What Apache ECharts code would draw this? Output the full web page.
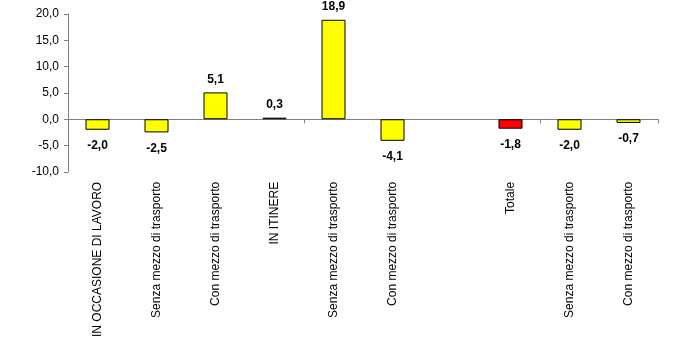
<!DOCTYPE html>
<html><head><meta charset="utf-8">
<script src="https://cdn.jsdelivr.net/npm/echarts@6/dist/echarts.min.js"></script>
<style>html,body{margin:0;padding:0;background:#fff}#c{width:700px;height:340px}</style>
</head><body><div id="c"></div>
<script>
var categories = ['IN OCCASIONE DI LAVORO','Senza mezzo di trasporto','Con mezzo di trasporto','IN ITINERE','Senza mezzo di trasporto','Con mezzo di trasporto','','Totale','Senza mezzo di trasporto','Con mezzo di trasporto'];
var values = [-2.0, -2.5, 5.1, 0.3, 18.9, -4.1, null, -1.8, -2.0, -0.7];
var highlightCategory = 'Totale';

var fmt = function(v){ return v.toFixed(1).replace('.', ','); };
var chart = echarts.init(document.getElementById('c'), null, {renderer:'canvas'});
chart.setOption({
  animation: false,
  backgroundColor: '#fff',
  grid: {left: 68, top: 14, right: 42, bottom: 166, containLabel: false},
  xAxis: [{
    type: 'category', data: categories,
    axisLine: {onZero: true, lineStyle: {color: '#808080', width: 1}},
    axisTick: {show: true, length: 4, inside: false, lineStyle: {color: '#808080'}},
    axisLabel: {show: false}
  }, {
    type: 'category', data: categories, position: 'bottom',
    axisLine: {show: false, onZero: false}, axisTick: {show: false},
    axisLabel: {rotate: 90, interval: 0, margin: 10, color: '#000', fontFamily: 'Liberation Sans, Arial', fontSize: 12, padding: [4,0,0,0]}
  }],
  yAxis: {
    type: 'value', min: -10, max: 20, interval: 5,
    axisLine: {show: true, lineStyle: {color: '#808080'}},
    axisTick: {show: true, length: 4, lineStyle: {color: '#808080'}},
    splitLine: {show: false},
    axisLabel: {formatter: fmt, color: '#000', fontFamily: 'Liberation Sans, Arial', fontSize: 12, margin: 9}
  },
  series: [{
    type: 'bar', xAxisIndex: 0, barWidth: 24,
    data: values.map(function(v){
      var neg = v !== null && v < 0;
      return {value: v, label: {position: neg ? 'bottom' : 'top', distance: neg ? 10 : 7}};
    }),
    itemStyle: {
      borderColor: '#000', borderWidth: 1,
      color: function(p){ return p.name === highlightCategory ? '#ff0000' : '#ffff00'; }
    },
    label: {
      show: true, color: '#000', fontWeight: 'bold', fontSize: 12,
      fontFamily: 'Liberation Sans Narrow, Liberation Sans, Arial',
      formatter: function(p){ return p.value === null || p.value === undefined ? '' : fmt(p.value); }
    }
  }]
});
</script></body></html>
